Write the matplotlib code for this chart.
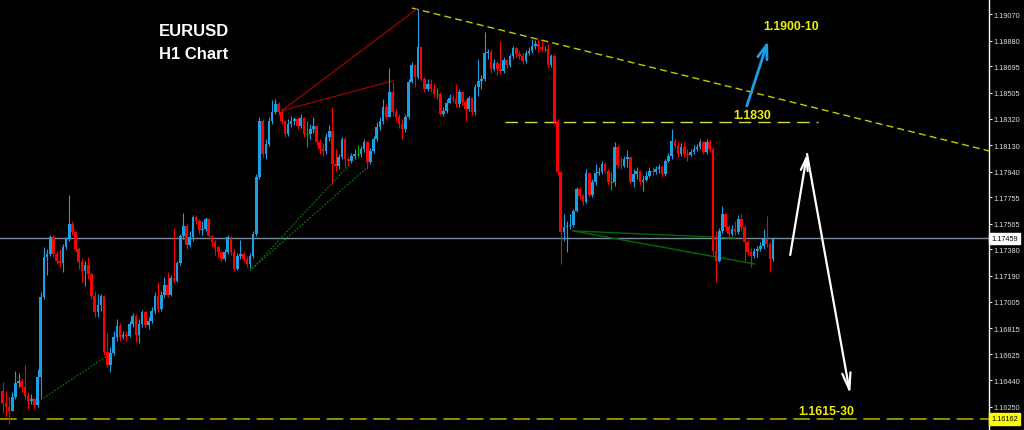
import numpy as np
import matplotlib.pyplot as plt
from matplotlib.transforms import blended_transform_factory

# EURUSD H1 candles (prices), open = previous close
open_first = 1.16363
close = [1.16276, 1.16248, 1.16219, 1.16320, 1.16420, 1.16435, 1.16391, 1.16327, 1.16291, 1.16305,
         1.16262, 1.16463, 1.17038, 1.17326, 1.17347, 1.17470, 1.17347, 1.17297, 1.17283, 1.17398,
         1.17455, 1.17563, 1.17505, 1.17383, 1.17290, 1.17225, 1.17268, 1.17204, 1.17045, 1.16930,
         1.16981, 1.17045, 1.16643, 1.16550, 1.16636, 1.16751, 1.16830, 1.16751, 1.16765, 1.16758,
         1.16844, 1.16902, 1.16765, 1.16844, 1.16930, 1.16837, 1.16866, 1.16938, 1.17045, 1.16952,
         1.17053, 1.17125, 1.17053, 1.17175, 1.17153, 1.17283, 1.17477, 1.17549, 1.17412, 1.17470,
         1.17613, 1.17585, 1.17520, 1.17527, 1.17599, 1.17477, 1.17434, 1.17398, 1.17362, 1.17311,
         1.17362, 1.17470, 1.17362, 1.17240, 1.17333, 1.17347, 1.17311, 1.17275, 1.17333, 1.17491,
         1.17901, 1.18303, 1.18066, 1.18138, 1.18303, 1.18368, 1.18425, 1.18368, 1.18303, 1.18210,
         1.18282, 1.18303, 1.18318, 1.18267, 1.18325, 1.18210, 1.18210, 1.18246, 1.18267, 1.18152,
         1.18102, 1.18088, 1.18188, 1.18231, 1.17994, 1.17980, 1.18044, 1.18174, 1.18030, 1.18016,
         1.18052, 1.18066, 1.18066, 1.18102, 1.18152, 1.18009, 1.18088, 1.18174, 1.18260, 1.18303,
         1.18404, 1.18332, 1.18512, 1.18368, 1.18332, 1.18282, 1.18246, 1.18332, 1.18583, 1.18706,
         1.18619, 1.18835, 1.18605, 1.18533, 1.18569, 1.18533, 1.18497, 1.18497, 1.18353, 1.18375,
         1.18433, 1.18469, 1.18461, 1.18425, 1.18512, 1.18440, 1.18389, 1.18469, 1.18368, 1.18548,
         1.18591, 1.18605, 1.18792, 1.18799, 1.18677, 1.18720, 1.18677, 1.18663, 1.18742, 1.18706,
         1.18770, 1.18828, 1.18785, 1.18770, 1.18734, 1.18792, 1.18806, 1.18842, 1.18857, 1.18835,
         1.18821, 1.18821, 1.18706, 1.18770, 1.18296, 1.17937, 1.17505, 1.17541, 1.17549, 1.17556,
         1.17656, 1.17814, 1.17764, 1.17721, 1.17929, 1.17771, 1.17865, 1.17929, 1.17937, 1.17994,
         1.17944, 1.17865, 1.17865, 1.18116, 1.17987, 1.17980, 1.18030, 1.18044, 1.17865, 1.17922,
         1.17944, 1.17865, 1.17879, 1.17908, 1.17944, 1.17937, 1.17958, 1.17973, 1.17922, 1.18016,
         1.18052, 1.18159, 1.18124, 1.18066, 1.18116, 1.18066, 1.18059, 1.18080, 1.18102, 1.18116,
         1.18152, 1.18080, 1.18152, 1.18102, 1.17369, 1.17297, 1.17513, 1.17635, 1.17541, 1.17491,
         1.17527, 1.17505, 1.17599, 1.17541, 1.17434, 1.17362, 1.17333, 1.17369, 1.17383, 1.17405,
         1.17455, 1.17419, 1.17311, 1.17459]
high = [1.16427, 1.16363, 1.16320, 1.16356, 1.16507, 1.16492, 1.16449, 1.16550, 1.16356, 1.16341,
        1.16320, 1.16521, 1.17074, 1.17398, 1.17383, 1.17484, 1.17484, 1.17369, 1.17383, 1.17419,
        1.17470, 1.17771, 1.17585, 1.17513, 1.17398, 1.17311, 1.17297, 1.17326, 1.17211, 1.17081,
        1.17060, 1.17060, 1.17053, 1.16780, 1.16679, 1.16794, 1.16880, 1.16851, 1.16794, 1.16794,
        1.16866, 1.16923, 1.16916, 1.16880, 1.16945, 1.16938, 1.16895, 1.16966, 1.17074, 1.17146,
        1.17081, 1.17182, 1.17218, 1.17196, 1.17534, 1.17297, 1.17491, 1.17642, 1.17563, 1.17513,
        1.17628, 1.17628, 1.17599, 1.17585, 1.17613, 1.17606, 1.17484, 1.17448, 1.17405, 1.17369,
        1.17383, 1.17484, 1.17477, 1.17383, 1.17354, 1.17448, 1.17362, 1.17333, 1.17354, 1.17513,
        1.17922, 1.18332, 1.18318, 1.18174, 1.18332, 1.18454, 1.18461, 1.18440, 1.18389, 1.18310,
        1.18318, 1.18339, 1.18332, 1.18332, 1.18353, 1.18332, 1.18303, 1.18282, 1.18332, 1.18274,
        1.18174, 1.18145, 1.18217, 1.18274, 1.18404, 1.18102, 1.18066, 1.18188, 1.18188, 1.18044,
        1.18073, 1.18102, 1.18131, 1.18124, 1.18174, 1.18159, 1.18109, 1.18195, 1.18296, 1.18332,
        1.18461, 1.18425, 1.18684, 1.18583, 1.18389, 1.18353, 1.18318, 1.18353, 1.18605, 1.18727,
        1.18713, 1.19108, 1.18835, 1.18619, 1.18605, 1.18605, 1.18576, 1.18540, 1.18512, 1.18404,
        1.18461, 1.18497, 1.18490, 1.18569, 1.18533, 1.18519, 1.18461, 1.18483, 1.18476, 1.18569,
        1.18749, 1.18634, 1.18943, 1.18821, 1.18821, 1.18749, 1.18734, 1.18878, 1.18763, 1.18749,
        1.18785, 1.18842, 1.18835, 1.18806, 1.18792, 1.18813, 1.18835, 1.18893, 1.18885, 1.18893,
        1.18878, 1.18842, 1.18857, 1.18785, 1.18785, 1.18318, 1.17944, 1.17635, 1.17585, 1.17635,
        1.17671, 1.17829, 1.17829, 1.17779, 1.17958, 1.17937, 1.17886, 1.17994, 1.17973, 1.18016,
        1.18009, 1.17958, 1.17937, 1.18152, 1.18131, 1.18044, 1.18052, 1.18095, 1.18044, 1.17958,
        1.17973, 1.17951, 1.17915, 1.17944, 1.17973, 1.17973, 1.17980, 1.17994, 1.17987, 1.18030,
        1.18073, 1.18246, 1.18174, 1.18159, 1.18145, 1.18152, 1.18102, 1.18102, 1.18131, 1.18138,
        1.18174, 1.18159, 1.18174, 1.18167, 1.18116, 1.17513, 1.17534, 1.17692, 1.17642, 1.17556,
        1.17556, 1.17585, 1.17628, 1.17635, 1.17556, 1.17448, 1.17390, 1.17390, 1.17405, 1.17434,
        1.17527, 1.17620, 1.17434, 1.17470]
low = [1.16205, 1.16176, 1.16126, 1.16219, 1.16305, 1.16391, 1.16356, 1.16305, 1.16233, 1.16269,
       1.16233, 1.16248, 1.16312, 1.17024, 1.17196, 1.17333, 1.17326, 1.17275, 1.17254, 1.17218,
       1.17383, 1.17441, 1.17484, 1.17362, 1.17240, 1.17146, 1.17117, 1.17168, 1.17024, 1.16895,
       1.16895, 1.16938, 1.16621, 1.16535, 1.16499, 1.16621, 1.16722, 1.16722, 1.16737, 1.16722,
       1.16751, 1.16823, 1.16715, 1.16708, 1.16823, 1.16823, 1.16808, 1.16851, 1.16916, 1.16930,
       1.16938, 1.17038, 1.17038, 1.17045, 1.17139, 1.17146, 1.17268, 1.17455, 1.17383, 1.17398,
       1.17441, 1.17563, 1.17491, 1.17484, 1.17513, 1.17455, 1.17398, 1.17340, 1.17326, 1.17297,
       1.17297, 1.17347, 1.17340, 1.17225, 1.17232, 1.17311, 1.17290, 1.17254, 1.17247, 1.17319,
       1.17477, 1.17886, 1.18044, 1.18030, 1.18124, 1.18282, 1.18353, 1.18346, 1.18282, 1.18188,
       1.18195, 1.18260, 1.18274, 1.18246, 1.18253, 1.18188, 1.18116, 1.18174, 1.18217, 1.18131,
       1.18066, 1.18052, 1.18066, 1.18159, 1.17850, 1.17944, 1.17958, 1.18030, 1.17973, 1.17987,
       1.18001, 1.18030, 1.18044, 1.18044, 1.18080, 1.17958, 1.17994, 1.18073, 1.18159, 1.18239,
       1.18282, 1.18318, 1.18332, 1.18339, 1.18303, 1.18253, 1.18174, 1.18224, 1.18318, 1.18576,
       1.18548, 1.18605, 1.18591, 1.18512, 1.18519, 1.18512, 1.18476, 1.18461, 1.18346, 1.18339,
       1.18361, 1.18433, 1.18440, 1.18404, 1.18404, 1.18418, 1.18303, 1.18375, 1.18346, 1.18346,
       1.18483, 1.18533, 1.18591, 1.18749, 1.18648, 1.18663, 1.18634, 1.18641, 1.18648, 1.18684,
       1.18691, 1.18749, 1.18763, 1.18749, 1.18713, 1.18720, 1.18778, 1.18792, 1.18821, 1.18799,
       1.18806, 1.18799, 1.18691, 1.18691, 1.18282, 1.17915, 1.17275, 1.17441, 1.17362, 1.17527,
       1.17541, 1.17649, 1.17743, 1.17699, 1.17714, 1.17757, 1.17757, 1.17843, 1.17915, 1.17922,
       1.17929, 1.17843, 1.17807, 1.17836, 1.17973, 1.17958, 1.17973, 1.17973, 1.17850, 1.17829,
       1.17886, 1.17843, 1.17800, 1.17872, 1.17901, 1.17915, 1.17922, 1.17929, 1.17901, 1.17908,
       1.18009, 1.18030, 1.18109, 1.18044, 1.18052, 1.18044, 1.18016, 1.18052, 1.18066, 1.18088,
       1.18102, 1.18066, 1.18066, 1.18080, 1.17340, 1.17146, 1.17290, 1.17498, 1.17513, 1.17470,
       1.17477, 1.17484, 1.17491, 1.17513, 1.17297, 1.17340, 1.17254, 1.17319, 1.17326, 1.17369,
       1.17383, 1.17398, 1.17218, 1.17297]

tick_prices = [1.19070, 1.18880, 1.18695, 1.18505, 1.18320, 1.18130, 1.17940, 1.17755,
               1.17565, 1.17380, 1.17190, 1.17005, 1.16815, 1.16625, 1.16440, 1.16250]
current_price = 1.17459
support_price = 1.16162
resistance_price = 1.18296
price_min, price_max = 1.16082, 1.19180

BLUE = '#1a9fe3'
RED = '#ff0000'
GREEN = '#00b000'
YELLOW = '#f0f000'
AXIS_FONT = 'Liberation Sans'

fig = plt.figure(figsize=(10.24, 4.31), dpi=100, facecolor='black')
ax = fig.add_axes([0, 0, 989 / 1024, 1], facecolor='black')
ax.set_xlim(-0.85, 311.1)
ax.set_ylim(price_min, price_max)

o = np.array([open_first] + close[:-1])
c = np.array(close)
h = np.array(high)
l = np.array(low)
idx = np.arange(len(c))
colors = np.where(c > o, BLUE, np.where(c < o, RED, GREEN))
doji = c == o

ax.vlines(idx, l, h, colors=colors, lw=0.8, zorder=3)
body_lo = np.minimum(o, c)
body_h = np.maximum(np.abs(c - o), 0.00008)
ax.bar(idx[~doji], body_h[~doji], bottom=body_lo[~doji], width=0.82,
       color=colors[~doji], lw=0, zorder=4)
ax.hlines(c[doji], idx[doji] - 0.4, idx[doji] + 0.4, colors=GREEN, lw=0.8, zorder=4)

# horizontal lines
ax.axhline(current_price, color='#7c8a99', lw=1.0, zorder=2)
ax.axhline(support_price, color='#a8a800', lw=1.2, ls=(0, (10, 4)), zorder=2)
ax.plot([158.5, 257.2], [resistance_price, resistance_price], color='#d8d840',
        lw=1.0, ls=(0, (9, 5)), zorder=2)

# falling trendline from the top
ax.plot([129.1, 311.1], [1.19115, 1.18088], color='#c8c800', lw=1.0,
        ls=(0, (5, 3)), zorder=2)

# red fan lines
ax.plot([88.0, 130.6], [1.18377, 1.19108], color='#b00000', lw=0.8, zorder=2)
ax.plot([88.0, 123.2], [1.18377, 1.18593], color='#b00000', lw=0.8, zorder=2)

# green dotted support lines
for xs, ys in [([11.1, 32.9], [1.16284, 1.16614]),
               ([78.0, 109.6], [1.17225, 1.17994]),
               ([78.6, 115.2], [1.17240, 1.17973])]:
    ax.plot(xs, ys, color='#0a8a0a', lw=0.8, ls=(0, (1.5, 1.5)), zorder=2)

# green solid lines
ax.plot([179.9, 231.0], [1.17513, 1.17462], color='#006a00', lw=1.0, zorder=2)
ax.plot([179.9, 237.3], [1.17513, 1.17275], color='#006a00', lw=1.0, zorder=2)

# arrows
ax.annotate('', xy=(241.4, 1.18878), xytext=(234.7, 1.18411),
            arrowprops=dict(arrowstyle='->,head_length=1.0,head_width=0.35',
                            color=BLUE, lw=2, shrinkA=0, shrinkB=0))
ax.annotate('', xy=(253.7, 1.18066), xytext=(248.4, 1.17340),
            arrowprops=dict(arrowstyle='->,head_length=0.9,head_width=0.25',
                            color='white', lw=1.6, shrinkA=0, shrinkB=0))
ax.annotate('', xy=(267.3, 1.16341), xytext=(253.7, 1.18066),
            arrowprops=dict(arrowstyle='->,head_length=1.2,head_width=0.3',
                            color='white', lw=1.6, shrinkA=0, shrinkB=0))

# texts
ax.text(60.2, 1.18957, 'EURUSD', color='white', fontsize=12, fontweight='bold',
        family='Liberation Sans', ha='center', va='center')
ax.text(60.2, 1.18785, 'H1 Chart', color='white', fontsize=12, fontweight='bold',
        family='Liberation Sans', ha='center', va='center')
for xv, yv, s in [(248.7, 1.18986, '1.1900-10'), (236.4, 1.18346, '1.1830'),
                  (259.7, 1.16219, '1.1615-30')]:
    ax.text(xv, yv, s, color=YELLOW, fontsize=8.8, fontweight='bold',
            family='Liberation Sans', ha='center', va='center')

# right price axis
for side in ['left', 'top', 'bottom']:
    ax.spines[side].set_visible(False)
ax.spines['right'].set_color('white')
ax.spines['right'].set_linewidth(1.0)
ax.set_xticks([])
ax.yaxis.tick_right()
ax.set_yticks(tick_prices)
ax.set_yticklabels([f'{p:.5f}' for p in tick_prices], family=AXIS_FONT)
ax.tick_params(axis='y', colors='white', labelcolor='#dcdcdc', labelsize=5.3,
               length=2.5, width=0.7, pad=1.0)

trans = blended_transform_factory(ax.transAxes, ax.transData)
ax.text(1.002, current_price, f'{current_price:.5f}', transform=trans, fontsize=5.3,
        family=AXIS_FONT, color='black', ha='left', va='center', clip_on=False,
        bbox=dict(boxstyle='square,pad=0.3', fc='white', ec='white'))
ax.text(1.002, support_price, f'{support_price:.5f}', transform=trans, fontsize=5.3,
        family=AXIS_FONT, color='black', ha='left', va='center', clip_on=False,
        bbox=dict(boxstyle='square,pad=0.3', fc='#ffff00', ec='#ffff00'))

fig.savefig('out.png', dpi=100, facecolor='black')
